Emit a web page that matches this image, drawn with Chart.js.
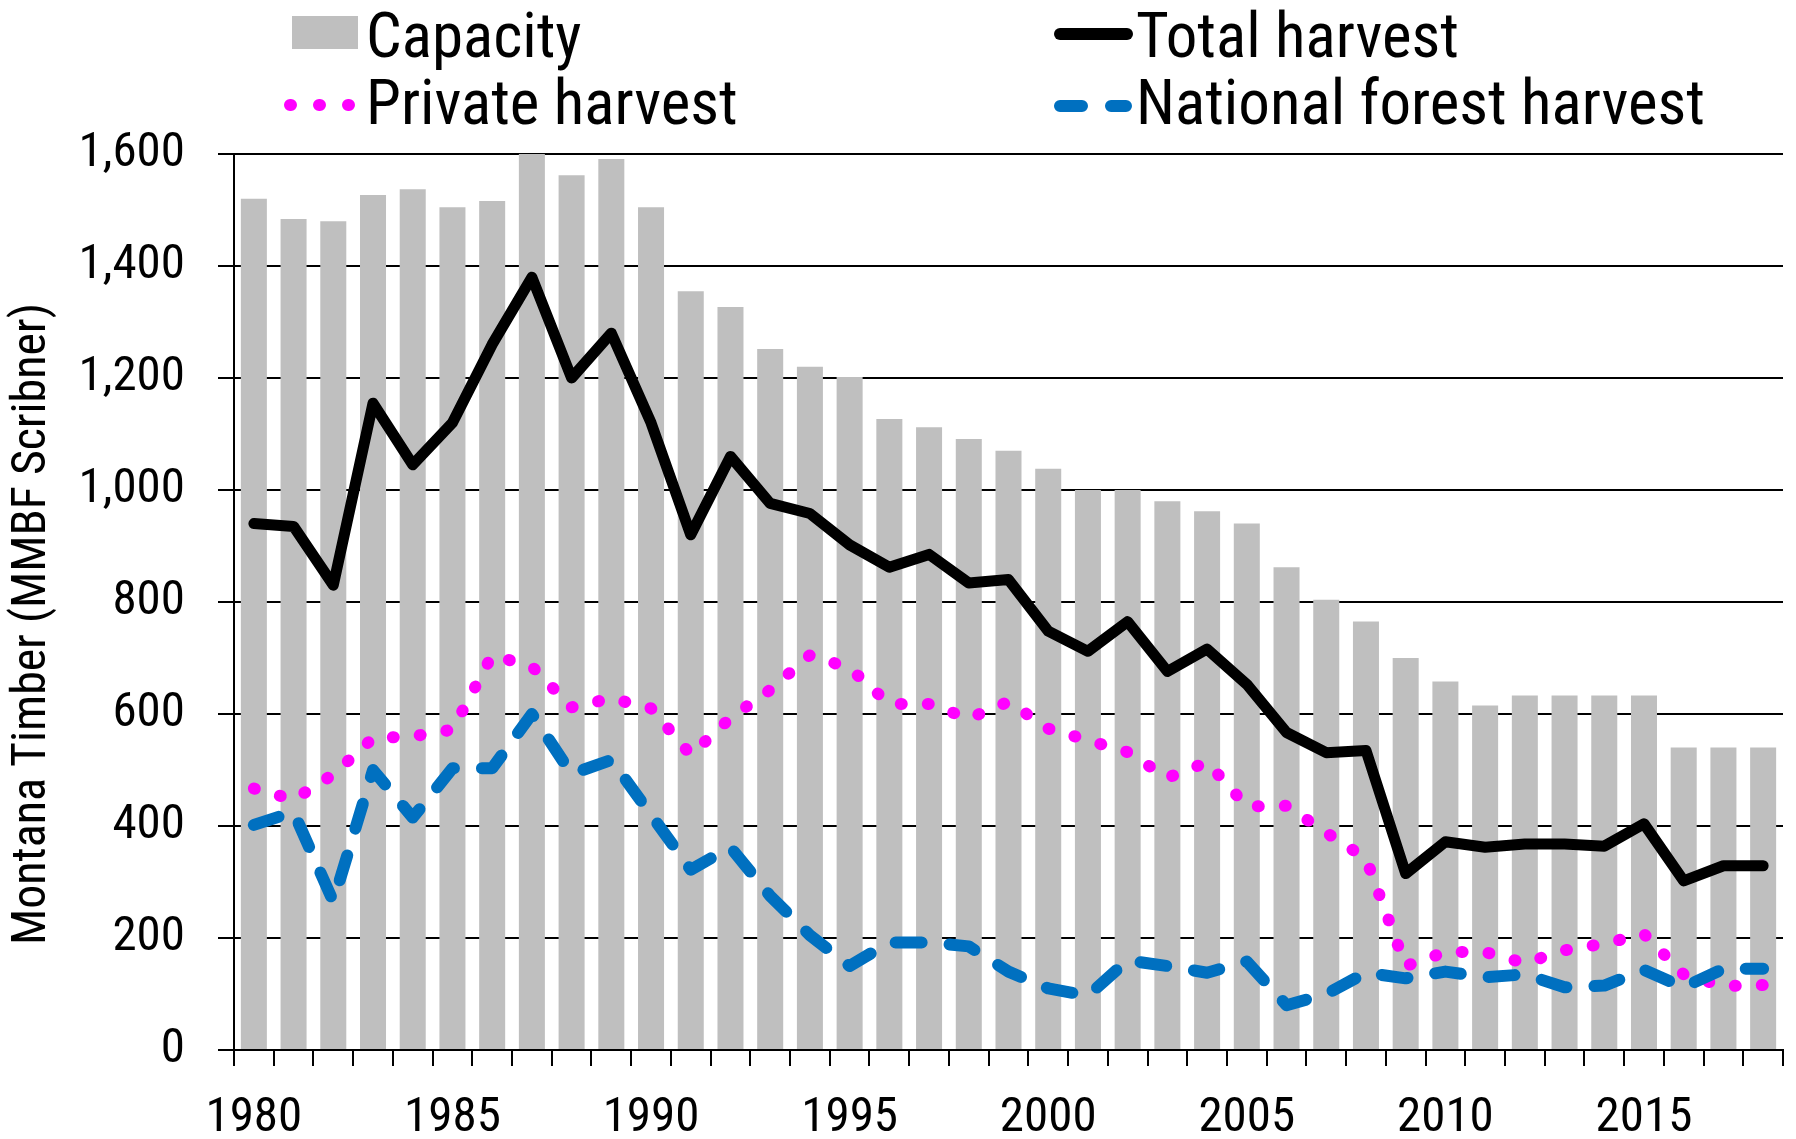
<!DOCTYPE html>
<html>
<head>
<meta charset="utf-8">
<script src="https://cdn.jsdelivr.net/npm/chart.js@4.4.1/dist/chart.umd.min.js"></script>
<style>
  html, body { margin: 0; padding: 0; background: #fff; }
  #wrap { width: 1796px; height: 1139px; }
</style>
</head>
<body>
<div id="wrap"><canvas id="chart"></canvas></div>
<script>
const years = [1980, 1981, 1982, 1983, 1984, 1985, 1986, 1987, 1988, 1989,
               1990, 1991, 1992, 1993, 1994, 1995, 1996, 1997, 1998, 1999,
               2000, 2001, 2002, 2003, 2004, 2005, 2006, 2007, 2008, 2009,
               2010, 2011, 2012, 2013, 2014, 2015, 2016, 2017, 2018];

// MMBF Scribner
const capacity = [1520, 1484, 1480, 1527, 1537, 1505, 1516, 1600, 1562, 1591,
                  1505, 1355, 1327, 1252, 1220, 1202, 1127, 1112, 1091, 1070,
                  1038, 1000, 1000, 980, 962, 940, 862, 804, 765, 700,
                  658, 615, 633, 633, 633, 633, 540, 540, 540];
const totalHarvest = [940, 935, 830, 1155, 1045, 1120, 1260, 1380, 1200, 1280,
                      1120, 920, 1060, 976, 958, 902, 862, 885, 834, 840,
                      748, 712, 765, 676, 716, 653, 567, 531, 535, 315,
                      372, 362, 368, 368, 364, 404, 302, 329, 329];
const privateHarvest = [467, 447, 492, 557, 560, 572, 705, 685, 612, 628,
                        610, 527, 593, 643, 705, 682, 618, 618, 592, 622,
                        574, 553, 532, 486, 514, 435, 436, 388, 342, 150,
                        175, 175, 155, 178, 190, 207, 135, 114, 116];
const nationalHarvest = [402, 425, 265, 500, 415, 503, 503, 600, 493, 518,
                         420, 322, 362, 275, 205, 150, 192, 192, 185, 140,
                         110, 97, 160, 150, 138, 158, 80, 100, 138, 128,
                         140, 130, 135, 112, 115, 143, 112, 145, 145];

const yTicks = [0, 200, 400, 600, 800, 1000, 1200, 1400, 1600];

// no Arial Narrow here, condensed Roboto is the closest
const FAMILY = 'Roboto, "DejaVu Sans Condensed", sans-serif';
const STRETCH = 'condensed';
const GRAY = '#bfbfbf';
const MAGENTA = '#ff00ff';
const BLUE = '#0070c0';

// legend drawn by hand: two columns, two rows like the original
const legendPlugin = {
  id: 'sideLegend',
  afterDraw(chart) {
    const ctx = chart.ctx;
    ctx.save();
    ctx.font = STRETCH + ' 63px ' + FAMILY;
    ctx.textBaseline = 'alphabetic';
    ctx.textAlign = 'left';

    // Capacity
    ctx.fillStyle = GRAY;
    ctx.fillRect(292, 16, 66, 33);
    ctx.fillStyle = '#000';
    ctx.fillText('Capacity', 366, 57);

    // Total harvest
    ctx.lineCap = 'round';
    ctx.strokeStyle = '#000';
    ctx.lineWidth = 12;
    ctx.beginPath(); ctx.moveTo(1060, 34); ctx.lineTo(1127, 34); ctx.stroke();
    ctx.fillText('Total harvest', 1136, 57);

    // Private harvest
    ctx.strokeStyle = MAGENTA;
    ctx.setLineDash([1, 28]);
    ctx.beginPath(); ctx.moveTo(290, 105); ctx.lineTo(350, 105); ctx.stroke();
    ctx.fillText('Private harvest', 366, 124);

    // National forest harvest
    ctx.strokeStyle = BLUE;
    ctx.setLineDash([22, 29]);
    ctx.beginPath(); ctx.moveTo(1060, 106); ctx.lineTo(1126, 106); ctx.stroke();
    ctx.setLineDash([]);
    ctx.fillText('National forest harvest', 1136, 124);
    ctx.restore();
  }
};

new Chart(document.getElementById('chart'), {
  type: 'bar',
  data: {
    labels: years,
    datasets: [
      {
        type: 'line', label: 'Total harvest', data: totalHarvest,
        borderColor: '#000', borderWidth: 11, pointRadius: 0, tension: 0,
        borderJoinStyle: 'round', borderCapStyle: 'round', order: 1
      },
      {
        type: 'line', label: 'National forest harvest', data: nationalHarvest,
        borderColor: BLUE, borderWidth: 12, pointRadius: 0, tension: 0,
        borderDash: [26, 28], borderJoinStyle: 'round', borderCapStyle: 'round', order: 2
      },
      {
        type: 'line', label: 'Private harvest', data: privateHarvest,
        borderColor: MAGENTA, borderWidth: 12, pointRadius: 0, tension: 0,
        borderDash: [1, 26], borderJoinStyle: 'round', borderCapStyle: 'round', order: 3
      },
      {
        type: 'bar', label: 'Capacity', data: capacity,
        backgroundColor: GRAY, borderWidth: 0,
        barPercentage: 0.655, categoryPercentage: 1.0, order: 4
      }
    ]
  },
  options: {
    responsive: true,
    maintainAspectRatio: false,
    animation: false,
    layout: { padding: { top: 154, right: 13, left: 0, bottom: 0 } },
    plugins: {
      legend: { display: false },
      tooltip: { enabled: false }
    },
    scales: {
      x: {
        offset: true,
        grid: { display: true, drawOnChartArea: false, drawTicks: true, tickLength: 16, color: '#000', lineWidth: 2, offset: true },
        border: { display: true, color: '#000', width: 2 },
        ticks: {
          autoSkip: false, maxRotation: 0, minRotation: 0, padding: 23,
          color: '#000', font: { family: FAMILY, weight: STRETCH, size: 49 },
          callback: function (v, i) { const y = years[i]; return y % 5 === 0 ? String(y) : ''; }
        },
        afterFit: (s) => { s.height = 89; }
      },
      y: {
        min: 0, max: 1600,
        afterBuildTicks: (s) => { s.ticks = yTicks.map(v => ({ value: v })); },
        grid: { color: '#000', lineWidth: 2, drawTicks: true, tickLength: 16 },
        border: { display: true, color: '#000', width: 2 },
        ticks: {
          padding: 33, color: '#000', font: { family: FAMILY, weight: STRETCH, size: 49 },
          callback: (v) => v.toLocaleString('en-US')
        },
        title: {
          display: true, text: 'Montana Timber (MMBF Scribner)    ',
          color: '#000', font: { family: FAMILY, weight: STRETCH, size: 48, lineHeight: 1.2 },
          padding: { top: 4, bottom: 0 }
        },
        afterFit: (s) => { s.width = 234; }
      }
    }
  },
  plugins: [legendPlugin]
});
</script>
</body>
</html>
